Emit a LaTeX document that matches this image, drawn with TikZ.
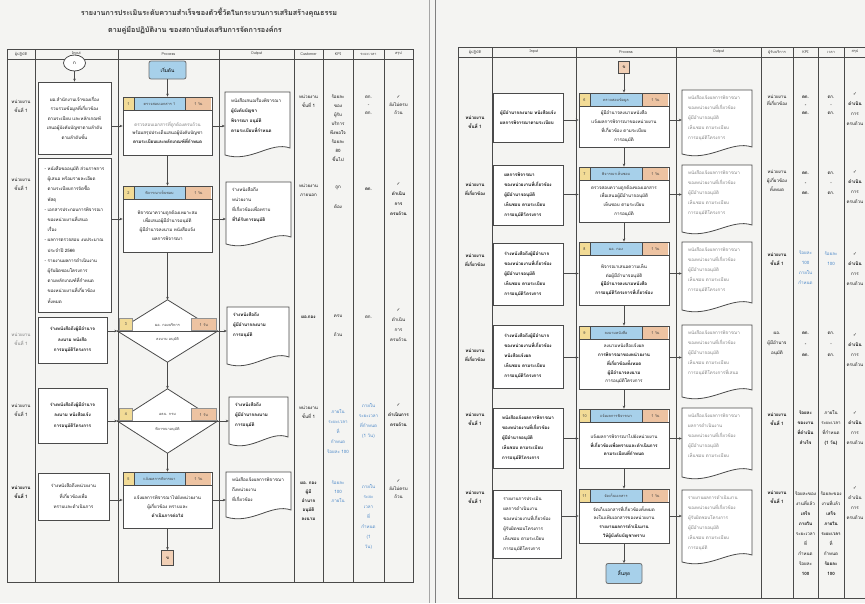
\documentclass[tikz,border=0pt]{standalone}
\usepackage{fontspec}
\setmainfont{Loma}[Script=Thai]
\newfontfamily\symf{DejaVu Sans}
\usetikzlibrary{arrows.meta,fit,shapes.geometric}
\definecolor{pg}{HTML}{F4F4F2}
\definecolor{ln}{HTML}{4A4A4A}
\definecolor{yel}{HTML}{F2DB96}
\definecolor{blu}{HTML}{A7D0EA}
\definecolor{ora}{HTML}{EDC3A2}
\definecolor{lnk}{HTML}{4C88C8}
\definecolor{txt}{HTML}{121212}
\definecolor{fnt}{HTML}{7E7E7E}
\newcommand\ck{{\symf ✓}}
\tikzset{
  grid/.style={draw=ln, line width=0.8pt},
  box/.style={draw=ln, line width=0.8pt, fill=white, inner sep=0pt},
  tx/.style={font=\fontsize{4.5}{8.8}\selectfont, align=center, inner sep=0pt, text=txt},
  txl/.style={tx, align=left},
  lsp/.style={font=\fontsize{4.5}{#1}\selectfont},
  lspb/.style={font=\fontsize{4.5}{#1}\selectfont\bfseries},
  bf/.style={font=\fontsize{4.5}{8.8}\selectfont\bfseries},
  hd/.style={font=\fontsize{3.8}{5}\selectfont, inner sep=0pt, text=black!75},
  arr/.style={draw=ln, line width=0.7pt, -{Stealth[length=3pt,width=2.6pt]}},
  term/.style={draw=ln!80, line width=0.8pt, fill=blu, rounded corners=2pt, inner sep=0pt, font=\fontsize{4.8}{5}\selectfont},
  conn/.style={draw=ln, line width=0.8pt, fill=ora!80, inner sep=0pt, font=\fontsize{4.3}{5}\selectfont},
}
% process box: name,x1,y1,x2,y2,num,title,time,body
\newcommand\PBox[9]{%
  \node[box, fit={(#2,#3) (#4,#5)}] (#1) {};
  \fill[yel] (#2+0.8,#3+0.8) rectangle (#2+11,#3+13);
  \fill[blu] (#2+11,#3+0.8) rectangle (#4-27,#3+13);
  \fill[ora] (#4-27,#3+0.8) rectangle (#4-0.8,#3+13);
  \draw[ln, line width=0.6pt] (#2,#3+13) -- (#4,#3+13) (#2+11,#3) -- (#2+11,#3+13) (#4-27,#3) -- (#4-27,#3+13);
  \node[hd] (#1n) at (#2+5.5,#3+7) {#6};
  \node[hd] (#1t) at ({(#2+#4-16)/2},#3+7) {#7};
  \node[hd] (#1h) at (#4-13.5,#3+7) {#8};
  \node[tx] (#1b) at ({(#2+#4)/2},{(#3+13+#5)/2}) {#9};
}
% input box: name,x1,y1,x2,y2,text,style
\newcommand\IBox[7]{%
  \node[box, fit={(#2,#3) (#4,#5)}] (#1) {};
  \node[tx,#7] (#1t) at ({(#2+#4)/2},{(#3+#5)/2}) {#6};
}
% document: name,x1,y1,x2,y2,text,style
\newcommand\Doc[7]{%
  \node[inner sep=0pt, fit={(#2,#3) (#4,#5)}] (#1) {};
  \draw[box] (#2,#5-3) -- (#2,#3) -- (#4,#3) -- (#4,#5-10) .. controls ({#4-0.3*(#4-#2)},{#5-17}) and ({#2+0.4*(#4-#2)},{#5+5}) .. (#2,#5-3) -- cycle;
  \node[txl,#7,anchor=north west] (#1t) at (#2+6,#3+6) {#6};
}
% decision: name,cx,top,bottom,hw,num,title,time,lower
\newcommand\Dia[9]{%
  \node[inner sep=0pt, fit={(#2-#5,#3) (#2+#5,#4)}] (#1) {};
  \draw[box] (#1.north) -- (#1.east) -- (#1.south) -- (#1.west) -- cycle;
  \draw[ln, line width=0.7pt] (#1.west) -- (#1.east);
  \fill[yel, draw=ln!60, line width=0.4pt] (#2-#5+2,{(#3+#4)/2-13}) rectangle (#2-#5+15,{(#3+#4)/2-0.6});
  \fill[ora, draw=ln!60, line width=0.4pt] (#2+#5-26,{(#3+#4)/2-13}) rectangle (#2+#5-1.5,{(#3+#4)/2-0.6});
  \node[hd] (#1n) at (#2-#5+8.5,{(#3+#4)/2-6.5}) {#6};
  \node[hd] (#1t) at (#2,{(#3+#4)/2-6.5}) {#7};
  \node[hd] (#1h) at (#2+#5-13.7,{(#3+#4)/2-6.5}) {#8};
  \node[hd] (#1b) at (#2,{(#3+#4)/2+8.5}) {#9};
}
\begin{document}
\begin{tikzpicture}[x=1pt,y=-1pt]
\useasboundingbox[fill=pg] (0,0) rectangle (865,603);
\draw[black!35, line width=0.8pt] (429,0) -- (429,603);
\draw[black!50, line width=0.8pt] (435,0) -- (435,603);

%================ LEFT PAGE =================
\node[font=\fontsize{7.2}{8}\selectfont\bfseries, text=black!80, inner sep=0pt] (tt1) at (209,13) {รายงานการประเมินระดับความสำเร็จของตัวชี้วัดในกระบวนการเสริมสร้างคุณธรรม};
\node[font=\fontsize{7.2}{8}\selectfont\bfseries, text=black!80, inner sep=0pt] (tt2) at (195,30) {ตามคู่มือปฏิบัติงาน ของสถาบันส่งเสริมการจัดการองค์กร};

\draw[grid] (7,49) rectangle (413,582);
\draw[grid] (7,59) -- (413,59);
\foreach \x in {35,118,219,294,323,353,384} \draw[grid] (\x,49) -- (\x,582);
\node[hd] (lh1) at (21,54) {ผู้ปฏิบัติ};
\node[hd] (lh2) at (76.5,54) {Input};
\node[hd] (lh3) at (168.5,54) {Process};
\node[hd] (lh4) at (256.5,54) {Output};
\node[hd] (lh5) at (308.5,54) {Customer};
\node[hd] (lh6) at (338,54) {KPI};
\node[hd] (lh7) at (368.5,54) {ระยะเวลา};
\node[hd] (lh8) at (398.5,54) {สรุป};

% performers
\node[tx] (lp1) at (21,106) {หน่วยงาน\\ชั้นที่ 1};
\node[tx] (lp2) at (21,184) {หน่วยงาน\\ชั้นที่ 1};
\node[tx,text=fnt] (lp3) at (21,339) {หน่วยงาน\\ชั้นที่ 1};
\node[tx] (lp4) at (21,410) {หน่วยงาน\\ชั้นที่ 1};
\node[tx,bf] (lp5) at (21,492) {หน่วยงาน\\ชั้นที่ 1};

% inputs
\node[draw=ln, line width=0.8pt, fill=white, ellipse, minimum width=22pt, minimum height=16pt, inner sep=0pt, font=\fontsize{4.5}{5}\selectfont] (ca) at (74.5,63) {ก};
\IBox{i1}{38}{82}{111}{154}{ผอ.สำนักงานเจ้าของเรื่อง\\รวบรวมข้อมูลที่เกี่ยวข้อง\\ตามระเบียบ และหลักเกณฑ์\\เสนอผู้บังคับบัญชาตามลำดับ\\ตามลำดับชั้น}{lsp=9.6}
\IBox{i2}{38}{158}{111}{312}{- หนังสือขออนุมัติ ส่วนราชการ\\\ \ ผู้เสนอ พร้อมรายละเอียด\\\ \ ตามระเบียบการจัดซื้อ\\\ \ พัสดุ\\- เอกสารประกอบการพิจารณา\\\ \ ของหน่วยงานที่เสนอ\\\ \ เรื่อง\\- ผลการตรวจสอบ งบประมาณ\\\ \ ประจำปี 2566\\- รายงานผลการดำเนินงาน\\\ \ ผู้รับผิดชอบโครงการ\\\ \ ตามหลักเกณฑ์ที่กำหนด\\\ \ ของหน่วยงานที่เกี่ยวข้อง\\\ \ ทั้งหมด}{align=left,lsp=10.2}
\IBox{i3}{38}{317}{107}{363}{ร่างหนังสือถึงผู้มีอำนาจ\\ลงนาม หนังสือ\\การอนุมัติโครงการ}{lspb=10.5}
\IBox{i4}{38}{388}{107}{443}{ร่างหนังสือถึงผู้มีอำนาจ\\ลงนาม หนังสือแจ้ง\\การอนุมัติโครงการ}{lspb=10.5}
\IBox{i5}{38}{473}{109}{520}{ร่างหนังสือถึงหน่วยงาน\\ที่เกี่ยวข้องเพื่อ\\ทราบและดำเนินการ}{lsp=10.5}

% process
\node[term, minimum width=37pt, minimum height=18pt] (start) at (167.5,70) {เริ่มต้น};
\PBox{p1}{123}{97}{212}{155}{1}{ตรวจสอบเอกสาร 1}{1 วัน}{\textcolor{fnt}{ตรวจสอบเอกสารที่ถูกต้องครบถ้วน}\\พร้อมสรุปประเด็นเสนอผู้บังคับบัญชา\\\textbf{ตามระเบียบและหลักเกณฑ์ที่กำหนด}}
\PBox{p2}{123}{186}{212}{252}{2}{พิจารณาเห็นชอบ}{1 วัน}{พิจารณาความถูกต้องเหมาะสม\\เพื่อเสนอผู้มีอำนาจอนุมัติ\\ผู้มีอำนาจลงนาม หนังสือแจ้ง\\ผลการพิจารณา}
\Dia{d1}{167.5}{300}{362}{50}{3}{ผอ. กองบริหาร}{1 วัน}{ลงนาม อนุมัติ}
\Dia{d2}{167.5}{389}{453}{50}{4}{อธบ. กรม}{1 วัน}{พิจารณาอนุมัติ}
\PBox{p5}{123}{472}{212}{528}{5}{แจ้งผลการพิจารณา}{1 วัน}{แจ้งผลการพิจารณาไปยังหน่วยงาน\\ผู้เกี่ยวข้อง ทราบและ\\\textbf{ดำเนินการต่อไป}}
\node[conn, minimum width=12pt, minimum height=15pt] (lc) at (167.5,558) {ข};

% outputs
\Doc{o1}{225}{92}{290}{158}{หนังสือเสนอเรื่องพิจารณา\\\textbf{ผู้บังคับบัญชา}\\\textbf{พิจารณา อนุมัติ}\\\textbf{ตามระเบียบที่กำหนด}}{lsp=10}
\Doc{o2}{226}{182}{291}{247}{ร่างหนังสือถึง\\หน่วยงาน\\ที่เกี่ยวข้องเพื่อทราบ\\\textbf{ที่ได้รับการอนุมัติ}}{lsp=10}
\Doc{o3}{227}{307}{289}{367}{ร่างหนังสือถึง\\ผู้มีอำนาจลงนาม\\การอนุมัติ}{lspb=10}
\Doc{o4}{229}{397}{288}{447}{ร่างหนังสือถึง\\ผู้มีอำนาจลงนาม\\การอนุมัติ}{lspb=10}
\Doc{o5}{226}{472}{291}{520}{หนังสือแจ้งผลการพิจารณา\\ถึงหน่วยงาน\\ที่เกี่ยวข้อง}{lsp=10}

% customer
\node[tx] (lc1) at (308.5,101) {หน่วยงาน\\ชั้นที่ 1};
\node[tx] (lc2) at (308.5,190) {หน่วยงาน\\ภายนอก};
\node[tx,bf] (lc3) at (308.5,317) {ผอ.กอง};
\node[tx] (lc4) at (308.5,412) {หน่วยงาน\\ชั้นที่ 1};
\node[tx,lspb=9] (lc5) at (308.5,501) {ผอ. กอง\\ผู้มี\\อำนาจ\\อนุมัติ\\ลงนาม};

% KPI
\node[tx,lsp=9] (lk1) at (338,128) {ร้อยละ\\ของ\\ผู้รับ\\บริการ\\พึงพอใจ\\ร้อยละ\\80\\ขึ้นไป};
\node[tx,lsp=20] (lk2) at (338,197) {ถูก\\ต้อง};
\node[tx,lsp=19] (lk3) at (338,326) {ครบ\\ถ้วน};
\node[tx,lsp=10,text=lnk] (lk4) at (338,431) {ภายใน\\ระยะเวลา\\ที่\\กำหนด\\ร้อยละ 100};
\node[tx,lsp=9,text=lnk] (lk5) at (338,492) {ร้อยละ\\100\\ภายใน};

% time
\node[tx,lsp=8] (lt1) at (368.5,105) {ตก.\\-\\ตก.};
\node[tx,bf] (lt2) at (368.5,189) {ตก.};
\node[tx] (lt3) at (368.5,317) {ตก.};
\node[tx,lsp=10,text=lnk] (lt4) at (368.5,421) {ภายใน\\ระยะเวลา\\ที่กำหนด\\(1 วัน)};
\node[tx,lsp=10,text=lnk] (lt5) at (368.5,517) {ภายใน\\ระยะ\\เวลา\\ที่\\กำหนด\\(1\\วัน)};

% summary
\node[tx,lsp=8] (ls1) at (398.5,105) {\ck\\ยังไม่ครบ\\ถ้วน};
\node[tx,lspb=10] (ls2) at (398.5,199) {\ck\\ดำเนิน\\การ\\ครบถ้วน};
\node[tx,lsp=10] (ls3) at (398.5,325) {\ck\\ดำเนิน\\การ\\ครบถ้วน};
\node[tx,lspb=10] (ls4) at (398.5,415) {\ck\\ดำเนินการ\\ครบถ้วน};
\node[tx,lsp=8] (ls5) at (398.5,489) {\ck\\ยังไม่ครบ\\ถ้วน};

% left arrows
\draw[arr] (ca) -- (i1);
\draw[arr] (start) -- (p1);
\draw[arr] (p1) -- (p2);
\draw[arr] (p2) -- (d1.north);
\draw[arr] (d1.south) -- (d2.north);
\draw[arr] (d2.south) -- (p5);
\draw[arr] (p5) -- (lc);
\draw[arr] (p1.west -| i1.east) -- (p1.west);
\draw[arr] (p2.west -| i2.east) -- (p2.west);
\draw[arr] (d1.west -| i3.east) -- (d1.west);
\draw[arr] (d2.west -| i4.east) -- (d2.west);
\draw[arr] (p5.west -| i5.east) -- (p5.west);
\draw[arr] (p1.east) -- (p1.east -| o1.west);
\draw[arr] (p2.east) -- (p2.east -| o2.west);
\draw[arr] (d1.east) -- (d1.east -| o3.west);
\draw[arr] (d2.east) -- (d2.east -| o4.west);
\draw[arr] (p5.east) -- (p5.east -| o5.west);

%================ RIGHT PAGE =================
\draw[grid] (458,47) rectangle (868,598);
\draw[grid] (458,57) -- (868,57);
\foreach \x in {492,576,676,761,793,818,844} \draw[grid] (\x,47) -- (\x,598);
\node[hd] (rh1) at (475,52) {ผู้ปฏิบัติ};
\node[hd] (rh2) at (534,52) {Input};
\node[hd] (rh3) at (626,52) {Process};
\node[hd] (rh4) at (718.5,52) {Output};
\node[hd] (rh5) at (777,52) {ผู้รับบริการ};
\node[hd] (rh6) at (805.5,52) {KPI};
\node[hd] (rh7) at (831,52) {เวลา};
\node[hd] (rh8) at (855,52) {สรุป};

% performers
\node[tx,bf] (rp1l) at (475,122) {หน่วยงาน\\ชั้นที่ 1};
\node[tx,bf] (rp2l) at (475,189) {หน่วยงาน\\ที่เกี่ยวข้อง};
\node[tx,bf] (rp3l) at (475,260) {หน่วยงาน\\ที่เกี่ยวข้อง};
\node[tx,bf] (rp4l) at (475,355) {หน่วยงาน\\ที่เกี่ยวข้อง};
\node[tx,bf] (rp5l) at (475,419) {หน่วยงาน\\ชั้นที่ 1};
\node[tx,bf] (rp6l) at (475,497) {หน่วยงาน\\ชั้นที่ 1};

% inputs
\IBox{ri1}{493}{93}{563}{142}{ผู้มีอำนาจลงนาม หนังสือแจ้ง\\ผลการพิจารณาตามระเบียบ}{align=left,lspb=10}
\IBox{ri2}{493}{165}{563}{225}{ผลการพิจารณา\\ของหน่วยงานที่เกี่ยวข้อง\\ผู้มีอำนาจอนุมัติ\\เห็นชอบ ตามระเบียบ\\การอนุมัติโครงการ}{align=left,lspb=10}
\IBox{ri3}{493}{243}{563}{305}{ร่างหนังสือถึงผู้มีอำนาจ\\ของหน่วยงานที่เกี่ยวข้อง\\ผู้มีอำนาจอนุมัติ\\เห็นชอบ ตามระเบียบ\\การอนุมัติโครงการ}{align=left,lspb=10}
\IBox{ri4}{493}{325}{563}{388}{ร่างหนังสือถึงผู้มีอำนาจ\\ของหน่วยงานที่เกี่ยวข้อง\\หนังสือแจ้งผล\\เห็นชอบ ตามระเบียบ\\การอนุมัติโครงการ}{align=left,lspb=10}
\IBox{ri5}{493}{408}{563}{468}{หนังสือแจ้งผลการพิจารณา\\ของหน่วยงานที่เกี่ยวข้อง\\ผู้มีอำนาจอนุมัติ\\เห็นชอบ ตามระเบียบ\\การอนุมัติโครงการ}{align=left,lspb=10}
\IBox{ri6}{493}{490}{561}{558}{รายงานการประเมิน\\ผลการดำเนินงาน\\ของหน่วยงานที่เกี่ยวข้อง\\ผู้รับผิดชอบโครงการ\\เห็นชอบ ตามระเบียบ\\การอนุมัติโครงการ}{align=left,lsp=10}

% process
\node[conn, minimum width=11pt, minimum height=12pt] (rc) at (624,67) {ข};
\PBox{rp1}{579}{93}{669}{147}{6}{ตรวจสอบข้อมูล}{1 วัน}{ผู้มีอำนาจลงนามหนังสือ\\แจ้งผลการพิจารณาของหน่วยงาน\\ที่เกี่ยวข้อง ตามระเบียบ\\การอนุมัติ}
\PBox{rp2}{579}{167}{669}{222}{7}{พิจารณาเห็นชอบ}{1 วัน}{ตรวจสอบความถูกต้องของเอกสาร\\เพื่อเสนอผู้มีอำนาจอนุมัติ\\เห็นชอบ ตามระเบียบ\\การอนุมัติ}
\PBox{rp3}{579}{242}{669}{305}{8}{ผอ. กอง}{1 วัน}{พิจารณาเสนอความเห็น\\ต่อผู้มีอำนาจอนุมัติ\\\textbf{ผู้มีอำนาจลงนามหนังสือ}\\\textbf{การอนุมัติโครงการที่เกี่ยวข้อง}}
\PBox{rp4}{579}{326}{669}{389}{9}{ลงนามหนังสือ}{1 วัน}{ลงนามหนังสือแจ้งผล\\\textbf{การพิจารณาของหน่วยงาน}\\\textbf{ที่เกี่ยวข้องทั้งหมด}\\\textbf{ผู้มีอำนาจลงนาม}\\การอนุมัติโครงการ}
\PBox{rp5}{579}{409}{669}{468}{10}{แจ้งผลการพิจารณา}{1 วัน}{แจ้งผลการพิจารณาไปยังหน่วยงาน\\\textbf{ที่เกี่ยวข้องเพื่อทราบและดำเนินการ}\\\textbf{ตามระเบียบที่กำหนด}}
\PBox{rp6}{579}{489}{669}{543}{11}{จัดเก็บเอกสาร}{1 วัน}{จัดเก็บเอกสารที่เกี่ยวข้องทั้งหมด\\ลงในแฟ้มเอกสารของหน่วยงาน\\\textbf{รายงานผลการดำเนินงาน}\\\textbf{ให้ผู้บังคับบัญชาทราบ}}
\node[term, minimum width=36pt, minimum height=20pt] (end) at (624,573.5) {สิ้นสุด};

% outputs
\Doc{ro1}{682}{90}{752}{157}{หนังสือแจ้งผลการพิจารณา\\ของหน่วยงานที่เกี่ยวข้อง\\ผู้มีอำนาจอนุมัติ\\เห็นชอบ ตามระเบียบ\\การอนุมัติโครงการ}{lsp=10,text=fnt}
\Doc{ro2}{682}{165}{752}{235}{หนังสือแจ้งผลการพิจารณา\\ของหน่วยงานที่เกี่ยวข้อง\\ผู้มีอำนาจอนุมัติ\\เห็นชอบ ตามระเบียบ\\การอนุมัติโครงการ}{lsp=10,text=fnt}
\Doc{ro3}{682}{242}{752}{313}{หนังสือแจ้งผลการพิจารณา\\ของหน่วยงานที่เกี่ยวข้อง\\ผู้มีอำนาจอนุมัติ\\เห็นชอบ ตามระเบียบ\\การอนุมัติโครงการ}{lsp=10,text=fnt}
\Doc{ro4}{682}{325}{752}{400}{หนังสือแจ้งผลการพิจารณา\\ของหน่วยงานที่เกี่ยวข้อง\\ผู้มีอำนาจอนุมัติ\\เห็นชอบ ตามระเบียบ\\การอนุมัติโครงการที่เสนอ}{lsp=10,text=fnt}
\Doc{ro5}{682}{408}{752}{480}{หนังสือแจ้งผลการพิจารณา\\ผลการดำเนินงาน\\ของหน่วยงานที่เกี่ยวข้อง\\ผู้มีอำนาจอนุมัติ\\เห็นชอบ ตามระเบียบ}{lsp=10,text=fnt}
\Doc{ro6}{682}{490}{752}{565}{รายงานผลการดำเนินงาน\\ของหน่วยงานที่เกี่ยวข้อง\\ผู้รับผิดชอบโครงการ\\ผู้มีอำนาจอนุมัติ\\เห็นชอบ ตามระเบียบ\\การอนุมัติ}{lsp=10,text=fnt}

% customer
\node[tx,lsp=7] (rc1) at (777,100) {หน่วยงาน\\ที่เกี่ยวข้อง};
\node[tx,lsp=9] (rc2) at (777,181) {หน่วยงาน\\ผู้เกี่ยวข้อง\\ทั้งหมด};
\node[tx,bf] (rc3) at (777,259) {หน่วยงาน\\ชั้นที่ 1};
\node[tx,lsp=10] (rc4) at (777,344) {ผอ.\\ผู้มีอำนาจ\\อนุมัติ};
\node[tx,bf] (rc5) at (777,419) {หน่วยงาน\\ชั้นที่ 1};
\node[tx,bf] (rc6) at (777,497) {หน่วยงาน\\ชั้นที่ 1};

% KPI
\node[tx,lspb=8] (rk1) at (805.5,105) {ตก.\\-\\ตก.};
\node[tx,lspb=10] (rk2) at (805.5,183) {ตก.\\-\\ตก.};
\node[tx,lsp=10,text=lnk] (rk3) at (805.5,268) {ร้อยละ\\100\\ภายใน\\กำหนด};
\node[tx,lspb=11] (rk4) at (805.5,344) {ตก.\\-\\ตก.};
\node[tx,lspb=10] (rk5) at (805.5,428) {ร้อยละ\\ของงาน\\ที่ดำเนิน\\สำเร็จ};
\node[tx,lsp=10] (rk6) at (805.5,534) {ร้อยละของ\\งานที่แล้ว\\\textbf{เสร็จ}\\\textbf{ภายใน}\\ระยะเวลา\\ที่\\กำหนด\\ร้อยละ\\\textbf{100}};

% time
\node[tx,lsp=8] (rt1) at (831,105) {ตก.\\-\\ตก.};
\node[tx,lsp=10] (rt2) at (831,183) {ตก.\\-\\ตก.};
\node[tx,lsp=10,text=lnk] (rt3) at (831,259) {ร้อยละ\\100};
\node[tx,lsp=11] (rt4) at (831,344) {ตก.\\-\\ตก.};
\node[tx,lsp=10] (rt5) at (831,428) {ภายใน\\ระยะเวลา\\ที่กำหนด\\\textbf{(1 วัน)}};
\node[tx,lsp=10] (rt6) at (831,534) {ร้อยละของ\\งานที่แล้ว\\\textbf{เสร็จ}\\\textbf{ภายใน}\\\textbf{ระยะเวลา}\\ที่\\กำหนด\\\textbf{ร้อยละ}\\\textbf{100}};

% summary
\node[tx,lsp=10] (rs1) at (855,109) {\ck\\\textbf{ดำเนิน}\\การ\\ครบถ้วน};
\node[tx,lsp=10] (rs2) at (855,187) {\ck\\\textbf{ดำเนิน}\\การ\\ครบถ้วน};
\node[tx,lsp=10] (rs3) at (855,269) {\ck\\\textbf{ดำเนิน}\\การ\\ครบถ้วน};
\node[tx,lsp=10] (rs4) at (855,350) {\ck\\\textbf{ดำเนิน}\\การ\\ครบถ้วน};
\node[tx,lsp=10] (rs5) at (855,428) {\ck\\\textbf{ดำเนิน}\\การ\\ครบถ้วน};
\node[tx,lsp=10] (rs6) at (855,503) {\ck\\ดำเนิน\\การ\\ครบถ้วน};

% right arrows
\draw[arr] (rc) -- (rp1);
\draw[arr] (rp1) -- (rp2);
\draw[arr] (rp2) -- (rp3);
\draw[arr] (rp3) -- (rp4);
\draw[arr] (rp4) -- (rp5);
\draw[arr] (rp5) -- (rp6);
\draw[arr] (rp6) -- (end);
\foreach \n in {1,...,6} {
  \draw[arr] (rp\n.west -| ri\n.east) -- (rp\n.west);
  \draw[arr] (rp\n.east) -- (rp\n.east -| ro\n.west);
}
\end{tikzpicture}
\end{document}
